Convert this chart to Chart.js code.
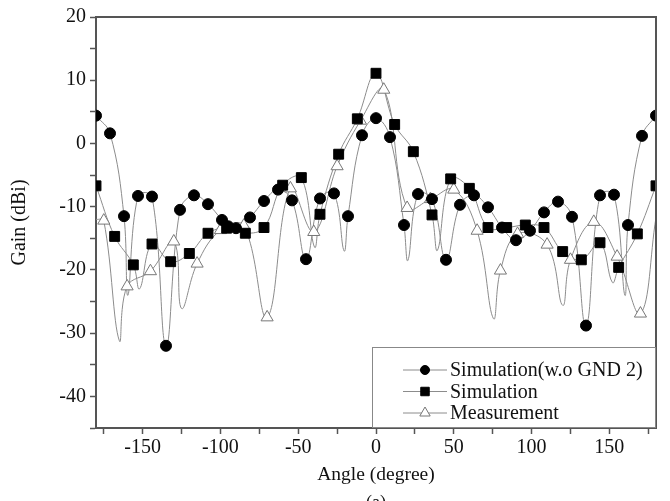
<!DOCTYPE html>
<html>
<head>
<meta charset="utf-8">
<script src="https://cdn.jsdelivr.net/npm/chart.js@4.4.0/dist/chart.umd.min.js"></script>
<style>
  html, body { margin: 0; padding: 0; background: #fff; }
</style>
</head>
<body>
<canvas id="chart" width="670" height="501"></canvas>
<script>
// ===== DATA =====
const xTicks = [-175, -150, -125, -100, -75, -50, -25, 0, 25, 50, 75, 100, 125, 150, 175];
const yTicks = [-45, -40, -35, -30, -25, -20, -15, -10, -5, 0, 5, 10, 15, 20];

const seriesNames = ['Simulation(w.o GND 2)', 'Simulation', 'Measurement'];

// Simulation (w.o GND 2) - circles
const circleAngles = [-180, -171, -162, -153, -144, -135, -126, -117, -108, -99, -95, -90, -81, -72, -63, -54, -45, -36, -27, -18, -9,
  0, 9, 18, 27, 36, 45, 54, 63, 72, 81, 90, 99, 108, 117, 126, 135, 144, 153, 162, 171, 180];
const circleGain = [4.4, 1.6, -11.5, -8.3, -8.4, -32, -10.5, -8.2, -9.6, -12.1, -13.1, -13.4, -11.7, -9.1, -7.3, -9.0, -18.3, -8.7, -7.9, -11.5, 1.3,
  4.0, 1.0, -12.9, -8.0, -8.8, -18.4, -9.7, -8.2, -10.1, -13.3, -15.3, -13.8, -10.9, -9.2, -11.6, -28.8, -8.2, -8.1, -12.9, 1.2, 4.4];
// curve points between markers (nulls of the line)
const circleDipAngles = [-159.5, -20.5, 20.5, 160];
const circleDipGain = [-24, -17, -18.5, -24];

// Simulation - squares
const squareAngles = [-180, -168, -156, -144, -132, -120, -108, -96, -84, -72, -60, -48, -36, -24, -12,
  0, 12, 24, 36, 48, 60, 72, 84, 96, 108, 120, 132, 144, 156, 168, 180];
const squareGain = [-6.7, -14.7, -19.2, -15.9, -18.7, -17.4, -14.2, -13.4, -14.2, -13.3, -6.6, -5.4, -11.2, -1.7, 3.9,
  11.1, 3.0, -1.3, -11.3, -5.6, -7.1, -13.3, -13.3, -12.9, -13.3, -17.1, -18.4, -15.7, -19.6, -14.3, -6.7];
const squareDipAngles = [-152, -39.5, 39.5, 152];
const squareDipGain = [-23, -16.4, -16.9, -22];

// Measurement - triangles
const triAngles = [-175, -160, -145, -130, -115, -100, -85, -70, -55, -40, -25, -10, 5, 20, 35, 50, 65, 80, 91, 110, 125, 140, 155, 170];
const triGain = [-12.2, -22.6, -20.2, -15.5, -19.0, -13.7, -13.0, -27.5, -7.1, -14.0, -3.6, 3.6, 8.5, -10.2, -8.8, -7.3, -13.8, -20.1, -14.3, -16.0, -18.4, -12.4, -17.9, -26.9];
const triDipAngles = [-180, -165, -125, 75.5, 120, 180];
const triDipGain = [-12, -31.2, -26.1, -27.7, -25.6, -11.7];

// ===== helpers =====
function pts(xs, ys) {
  return xs.map((x, i) => ({ x: x, y: ys[i] }));
}
function linePts(xs, ys, dx, dy) {
  return pts(xs, ys).concat(pts(dx, dy)).sort((a, b) => a.x - b.x);
}

const FONT = 'Liberation Serif, "Times New Roman", serif';
const LINE_COLOR = '#8c8c8c';

const markerStyles = [
  { pointStyle: 'circle', pointRadius: 5.5, pointBackgroundColor: '#000', pointBorderColor: '#000', pointBorderWidth: 1 },
  { pointStyle: 'rect', pointRadius: 7, pointBackgroundColor: '#000', pointBorderColor: '#000', pointBorderWidth: 1 },
  { pointStyle: 'triangle', pointRadius: 7, pointBackgroundColor: '#fff', pointBorderColor: '#777', pointBorderWidth: 1 }
];

function lineSet(data) {
  return {
    data: data,
    showLine: true,
    borderColor: LINE_COLOR,
    borderWidth: 1,
    tension: 0.4,
    pointRadius: 0,
    pointHoverRadius: 0,
    fill: false,
    order: 10
  };
}
function markerSet(label, data, st, order) {
  return Object.assign({
    label: label,
    data: data,
    showLine: false,
    order: order
  }, st);
}

// frame on top/right + legend box
const framePlugin = {
  id: 'frame',
  afterDraw(chart) {
    const ctx = chart.ctx;
    const a = chart.chartArea;
    ctx.save();
    ctx.strokeStyle = '#555';
    ctx.lineWidth = 2;
    ctx.beginPath();
    ctx.moveTo(a.left, a.top);
    ctx.lineTo(a.right, a.top);
    ctx.lineTo(a.right, a.bottom);
    ctx.stroke();

    // legend
    const bx = 372, by = 347;
    ctx.fillStyle = '#fff';
    ctx.fillRect(bx, by, a.right - bx - 1, a.bottom - by - 1);
    ctx.strokeStyle = '#888';
    ctx.lineWidth = 1;
    ctx.strokeRect(bx + 0.5, by + 0.5, a.right - bx - 1, a.bottom - by - 1);

    ctx.font = '20px ' + FONT;
    ctx.textBaseline = 'middle';
    ctx.textAlign = 'left';
    seriesNames.forEach((name, i) => {
      const y = 370 + i * 21.5;
      ctx.strokeStyle = LINE_COLOR;
      ctx.lineWidth = 1;
      ctx.beginPath();
      ctx.moveTo(403, y);
      ctx.lineTo(447, y);
      ctx.stroke();
      const st = markerStyles[i];
      ctx.fillStyle = st.pointBackgroundColor;
      ctx.strokeStyle = st.pointBorderColor;
      ctx.lineWidth = st.pointBorderWidth;
      Chart.helpers.drawPoint(ctx, {
        pointStyle: st.pointStyle,
        radius: st.pointRadius - 1,
        rotation: 0,
        borderWidth: st.pointBorderWidth
      }, 425, y);
      ctx.fillStyle = '#111';
      ctx.fillText(name, 450, y + 1);
    });

    // caption, cut off by the bottom edge
    ctx.fillStyle = '#111';
    ctx.font = '18px ' + FONT;
    ctx.textAlign = 'center';
    ctx.textBaseline = 'top';
    ctx.fillText('(a)', 376, 494);
    ctx.restore();
  }
};

new Chart(document.getElementById('chart'), {
  type: 'scatter',
  data: {
    datasets: [
      markerSet(seriesNames[0], pts(circleAngles, circleGain), markerStyles[0], 0),
      markerSet(seriesNames[1], pts(squareAngles, squareGain), markerStyles[1], 1),
      markerSet(seriesNames[2], pts(triAngles, triGain), markerStyles[2], 2),
      lineSet(linePts(circleAngles, circleGain, circleDipAngles, circleDipGain)),
      lineSet(linePts(squareAngles, squareGain, squareDipAngles, squareDipGain)),
      lineSet(linePts(triAngles, triGain, triDipAngles, triDipGain))
    ]
  },
  options: {
    responsive: false,
    animation: false,
    layout: { padding: { top: 17, right: 14, bottom: 14, left: 0 } },
    plugins: {
      legend: { display: false },
      tooltip: { enabled: false }
    },
    scales: {
      x: {
        type: 'linear',
        min: -180,
        max: 180,
        afterBuildTicks: s => { s.ticks = xTicks.map(v => ({ value: v })); },
        afterFit: s => { s.height = 59; },
        ticks: {
          autoSkip: false,
          maxRotation: 0,
          padding: 2,
          color: '#111',
          font: { family: FONT, size: 20 },
          callback: v => (v % 50 === 0 ? v : '')
        },
        grid: { drawOnChartArea: false, drawTicks: true, tickLength: 6, tickColor: '#555', tickWidth: 1.5 },
        border: { color: '#555', width: 2 },
        title: { display: true, text: 'Angle (degree)', color: '#111', font: { family: FONT, size: 19.5 }, padding: { top: 0, bottom: 0 } }
      },
      y: {
        min: -45,
        max: 20,
        afterBuildTicks: s => { s.ticks = yTicks.map(v => ({ value: v })); },
        afterFit: s => { s.width = 96; },
        ticks: {
          autoSkip: false,
          padding: 4,
          color: '#111',
          font: { family: FONT, size: 20 },
          callback: v => (v % 10 === 0 ? v : '')
        },
        grid: { drawOnChartArea: false, drawTicks: true, tickLength: 6, tickColor: '#555', tickWidth: 1.5 },
        border: { color: '#555', width: 2 },
        title: { display: true, text: 'Gain (dBi)', color: '#111', font: { family: FONT, size: 20 }, padding: { top: 8, bottom: 8 } }
      }
    }
  },
  plugins: [framePlugin]
});
</script>
</body>
</html>
